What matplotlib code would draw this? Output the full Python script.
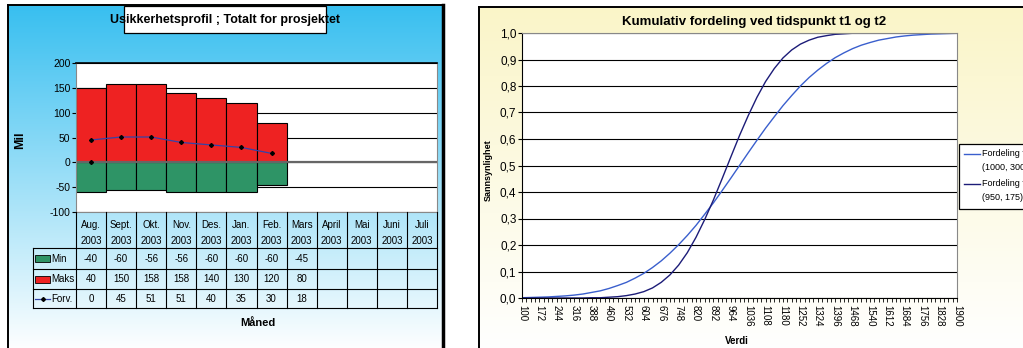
import numpy as np
import matplotlib
matplotlib.use("Agg")
import matplotlib.pyplot as plt
from matplotlib.patches import Rectangle

plt.rcParams['font.family'] = ['Liberation Sans Narrow', 'Liberation Sans', 'DejaVu Sans']
plt.rcParams['axes.unicode_minus'] = False

# --- Usikkerhetsprofil data (table values per month) ---
months = ['Aug.', 'Sept.', 'Okt.', 'Nov.', 'Des.', 'Jan.', 'Feb.', 'Mars', 'April', 'Mai', 'Juni', 'Juli']
year = '2003'
min_vals = [-40, -60, -56, -56, -60, -60, -60, -45]
maks_vals = [40, 150, 158, 158, 140, 130, 120, 80]
forv_vals = [0, 45, 51, 51, 40, 35, 30, 18]

# --- Kumulativ fordeling data ---
verdi = list(range(100, 1901, 36))
fordeling_t1 = [0.001, 0.002, 0.003, 0.004, 0.006, 0.008, 0.011, 0.015, 0.021, 0.027,
                0.036, 0.047, 0.059, 0.075, 0.093, 0.115, 0.140, 0.169, 0.201, 0.236,
                0.274, 0.316, 0.359, 0.405, 0.452, 0.500, 0.548, 0.595, 0.641, 0.684,
                0.726, 0.764, 0.800, 0.832, 0.860, 0.885, 0.907, 0.925, 0.941, 0.954,
                0.964, 0.973, 0.979, 0.985, 0.989, 0.992, 0.994, 0.996, 0.997, 0.998,
                0.999]
fordeling_t2 = [0.000, 0.000, 0.000, 0.000, 0.000, 0.000, 0.000, 0.000, 0.001, 0.001,
                0.003, 0.005, 0.009, 0.015, 0.024, 0.038, 0.059, 0.087, 0.124, 0.171,
                0.229, 0.296, 0.370, 0.450, 0.532, 0.613, 0.688, 0.757, 0.817, 0.866,
                0.906, 0.936, 0.958, 0.973, 0.984, 0.990, 0.995, 0.997, 0.999, 0.999,
                1.000, 1.000, 1.000, 1.000, 1.000, 1.000, 1.000, 1.000, 1.000, 1.000,
                1.000]
legend_labels = ['Fordeling t1\n(1000, 300)', 'Fordeling t2\n(950, 175)']

W, H = 1023, 348
fig = plt.figure(figsize=(W / 100, H / 100), dpi=100)
fig.patch.set_facecolor('white')


def box(x0, y0, x1, y1):
    # pixel box (top-left origin) -> figure fraction rect
    return [x0 / W, 1 - y1 / H, (x1 - x0) / W, (y1 - y0) / H]


def gradient_panel(rect, top, bottom, z):
    ax = fig.add_axes(rect, zorder=z)
    t = np.linspace(0, 1, 256)[:, None]
    c0, c1 = np.array(matplotlib.colors.to_rgb(top)), np.array(matplotlib.colors.to_rgb(bottom))
    img = c0 * (1 - t[..., None]) + c1 * t[..., None]
    img = np.repeat(img, 2, axis=1)
    ax.imshow(img, aspect='auto', extent=[0, 1, 0, 1])
    ax.set_xticks([])
    ax.set_yticks([])
    for s in ax.spines.values():
        s.set_color('black')
        s.set_linewidth(1.4)
    ax.spines['bottom'].set_visible(False)
    return ax


# panels
left_bg = gradient_panel(box(8, 5, 443, 352), '#38bff0', '#ffffff', 0)
left_bg.spines['right'].set_linewidth(2.5)
right_bg = gradient_panel(box(479, 7, 1030, 352), '#faf5c8', '#ffffff', 0)

# pixel overlay for table, titles and labels
ov = fig.add_axes([0, 0, 1, 1], zorder=5)
ov.set_xlim(0, W)
ov.set_ylim(H, 0)
ov.axis('off')
ov.patch.set_alpha(0)

# ---------------- Left chart ----------------
px0, px1 = 76, 437
ax1 = fig.add_axes(box(px0, 63, px1, 212), zorder=2)
n = len(months)
x = np.arange(len(maks_vals) - 1)
ax1.bar(x, maks_vals[1:], width=1.0, color='#ee2222', edgecolor='black', linewidth=0.8, zorder=2)
ax1.bar(x, min_vals[1:], width=1.0, color='#2e9466', edgecolor='black', linewidth=0.8, zorder=2)
ax1.plot(x, forv_vals[1:], color='#3344aa', linewidth=0.9, marker='D', markersize=2,
         markerfacecolor='black', markeredgecolor='black', zorder=3)
ax1.plot([0], forv_vals[:1], linestyle='none', marker='D', markersize=2, color='black', zorder=3)
ax1.set_xlim(-0.5, n - 0.5)
ax1.set_ylim(-100, 200)
ax1.set_yticks(range(-100, 201, 50))
ax1.set_xticks([])
ax1.grid(axis='y', color='black', linewidth=0.8, zorder=1)
ax1.axhline(0, color='#666666', linewidth=1.6, zorder=2.5)
ax1.tick_params(axis='y', labelsize=7.5, length=3, width=0.8, pad=1)
for s in ax1.spines.values():
    s.set_color('#888888')
ax1.spines['top'].set_color('black')
ax1.spines['top'].set_linewidth(1.2)

# title box
ov.add_patch(Rectangle((124, 6), 202, 27, facecolor='white', edgecolor='black', linewidth=0.9))
ov.text(225, 19.5, 'Usikkerhetsprofil ; Totalt for prosjektet', ha='center', va='center',
        fontsize=9, fontweight='bold')
ov.text(20, 140, 'Mil', rotation=90, ha='center', va='center', fontsize=9, fontweight='bold')

# data table
cw = (px1 - px0) / n
lx = 33
rows_y = [212, 248, 269, 289, 308]
for i in range(n + 1):
    xx = px0 + i * cw
    ov.plot([xx, xx], [212, 308], color='black', linewidth=0.8)
ov.plot([lx, lx], [248, 308], color='black', linewidth=0.8)
for yy in rows_y[1:]:
    ov.plot([lx, px1], [yy, yy], color='black', linewidth=0.8)
for i, m in enumerate(months):
    cx = px0 + (i + 0.5) * cw
    ov.text(cx, 225, m, ha='center', va='center', fontsize=7)
    ov.text(cx, 241, year, ha='center', va='center', fontsize=7)
for vals, yc in [(min_vals, 258.5), (maks_vals, 279), (forv_vals, 298.5)]:
    for i, v in enumerate(vals):
        ov.text(px0 + (i + 0.5) * cw, yc, str(v), ha='center', va='center', fontsize=7)
# row keys
ov.add_patch(Rectangle((35, 255), 15, 7, facecolor='#2e9466', edgecolor='black', linewidth=0.6))
ov.text(51, 258.5, 'Min', ha='left', va='center', fontsize=7)
ov.add_patch(Rectangle((35, 275.5), 15, 7, facecolor='#ee2222', edgecolor='black', linewidth=0.6))
ov.text(51, 279, 'Maks', ha='left', va='center', fontsize=7)
ov.plot([35, 50], [298.5, 298.5], color='#3344aa', linewidth=0.9)
ov.plot([42.5], [298.5], marker='D', markersize=2, color='black')
ov.text(51, 298.5, 'Forv.', ha='left', va='center', fontsize=7)
ov.text(258, 323, 'Måned', ha='center', va='center', fontsize=8, fontweight='bold')

# ---------------- Right chart ----------------
ax2 = fig.add_axes(box(522, 33, 957, 298), zorder=2)
ax2.set_facecolor('white')
ax2.plot(verdi, fordeling_t1, color='#3a5fcd', linewidth=1.0)
ax2.plot(verdi, fordeling_t2, color='#1c1c78', linewidth=1.0)
ax2.set_xlim(100, 1900)
ax2.set_ylim(0, 1)
yt = np.arange(0, 1.01, 0.1)
ax2.set_yticks(yt)
ax2.set_yticklabels([f'{v:.1f}'.replace('.', ',') for v in yt])
ax2.set_xticks(range(100, 1901, 72))
ax2.set_xticks(range(100, 1901, 18), minor=True)
ax2.tick_params(axis='x', which='both', length=3, width=0.6, labelsize=7, labelrotation=-90, pad=2)
ax2.tick_params(axis='y', labelsize=8.5, length=3, width=0.8, pad=1)
ax2.grid(axis='y', color='black', linewidth=0.8)
for s in ax2.spines.values():
    s.set_color('#888888')
ax2.spines['left'].set_color('black')
ax2.spines['bottom'].set_color('black')

ov.text(754, 22, 'Kumulativ fordeling ved tidspunkt t1 og t2', ha='center', va='center',
        fontsize=9.5, fontweight='bold')
ov.text(488, 170, 'Sannsynlighet', rotation=90, ha='center', va='center', fontsize=6.5,
        fontweight='bold')
ov.text(737, 341, 'Verdi', ha='center', va='center', fontsize=7, fontweight='bold')

# legend (runs past the right edge of the figure)
ov.add_patch(Rectangle((959, 144), 80, 65, facecolor='white', edgecolor='black', linewidth=0.9))
ov.plot([964, 980], [154, 154], color='#3a5fcd', linewidth=1.0)
ov.plot([964, 980], [184, 184], color='#1c1c78', linewidth=1.0)
for yy, lab in zip([154, 184], legend_labels):
    a, b = lab.split('\n')
    ov.text(982, yy, a, ha='left', va='center', fontsize=6.5)
    ov.text(982, yy + 14, b, ha='left', va='center', fontsize=6.5)

fig.savefig('out.png', dpi=100)
